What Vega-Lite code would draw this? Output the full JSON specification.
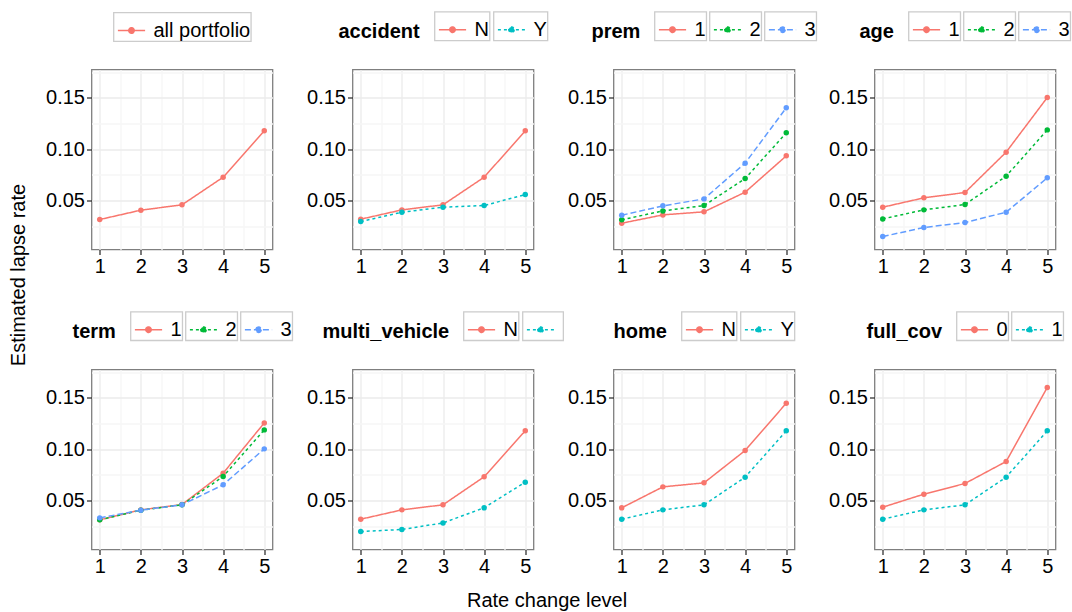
{
  "$schema": "https://vega.github.io/schema/vega-lite/v6.json",
  "padding": {"left": 8.5, "top": 10.5, "right": 5, "bottom": 5},
  "background": "#FFFFFF",
  "title": {"text": "Estimated lapse rate", "orient": "left", "anchor": "middle", "offset": 16, "dx": 36},
  "data": {
    "values": [
      {"panel": "all", "level": "all portfolio", "rate_level": 1, "lapse_rate": 0.0315},
      {"panel": "all", "level": "all portfolio", "rate_level": 2, "lapse_rate": 0.0406},
      {"panel": "all", "level": "all portfolio", "rate_level": 3, "lapse_rate": 0.0458},
      {"panel": "all", "level": "all portfolio", "rate_level": 4, "lapse_rate": 0.0727},
      {"panel": "all", "level": "all portfolio", "rate_level": 5, "lapse_rate": 0.1179},

      {"panel": "accident", "level": "N", "rate_level": 1, "lapse_rate": 0.0318},
      {"panel": "accident", "level": "N", "rate_level": 2, "lapse_rate": 0.0409},
      {"panel": "accident", "level": "N", "rate_level": 3, "lapse_rate": 0.0458},
      {"panel": "accident", "level": "N", "rate_level": 4, "lapse_rate": 0.0727},
      {"panel": "accident", "level": "N", "rate_level": 5, "lapse_rate": 0.1179},
      {"panel": "accident", "level": "Y", "rate_level": 1, "lapse_rate": 0.0295},
      {"panel": "accident", "level": "Y", "rate_level": 2, "lapse_rate": 0.0386},
      {"panel": "accident", "level": "Y", "rate_level": 3, "lapse_rate": 0.0435},
      {"panel": "accident", "level": "Y", "rate_level": 4, "lapse_rate": 0.0451},
      {"panel": "accident", "level": "Y", "rate_level": 5, "lapse_rate": 0.0558},

      {"panel": "prem", "level": "1", "rate_level": 1, "lapse_rate": 0.0279},
      {"panel": "prem", "level": "1", "rate_level": 2, "lapse_rate": 0.0360},
      {"panel": "prem", "level": "1", "rate_level": 3, "lapse_rate": 0.0390},
      {"panel": "prem", "level": "1", "rate_level": 4, "lapse_rate": 0.0581},
      {"panel": "prem", "level": "1", "rate_level": 5, "lapse_rate": 0.0935},
      {"panel": "prem", "level": "2", "rate_level": 1, "lapse_rate": 0.0312},
      {"panel": "prem", "level": "2", "rate_level": 2, "lapse_rate": 0.0399},
      {"panel": "prem", "level": "2", "rate_level": 3, "lapse_rate": 0.0451},
      {"panel": "prem", "level": "2", "rate_level": 4, "lapse_rate": 0.0714},
      {"panel": "prem", "level": "2", "rate_level": 5, "lapse_rate": 0.1159},
      {"panel": "prem", "level": "3", "rate_level": 1, "lapse_rate": 0.0357},
      {"panel": "prem", "level": "3", "rate_level": 2, "lapse_rate": 0.0448},
      {"panel": "prem", "level": "3", "rate_level": 3, "lapse_rate": 0.0516},
      {"panel": "prem", "level": "3", "rate_level": 4, "lapse_rate": 0.0864},
      {"panel": "prem", "level": "3", "rate_level": 5, "lapse_rate": 0.1403},

      {"panel": "age", "level": "1", "rate_level": 1, "lapse_rate": 0.0435},
      {"panel": "age", "level": "1", "rate_level": 2, "lapse_rate": 0.0526},
      {"panel": "age", "level": "1", "rate_level": 3, "lapse_rate": 0.0578},
      {"panel": "age", "level": "1", "rate_level": 4, "lapse_rate": 0.0971},
      {"panel": "age", "level": "1", "rate_level": 5, "lapse_rate": 0.1503},
      {"panel": "age", "level": "2", "rate_level": 1, "lapse_rate": 0.0321},
      {"panel": "age", "level": "2", "rate_level": 2, "lapse_rate": 0.0409},
      {"panel": "age", "level": "2", "rate_level": 3, "lapse_rate": 0.0461},
      {"panel": "age", "level": "2", "rate_level": 4, "lapse_rate": 0.0737},
      {"panel": "age", "level": "2", "rate_level": 5, "lapse_rate": 0.1188},
      {"panel": "age", "level": "3", "rate_level": 1, "lapse_rate": 0.0149},
      {"panel": "age", "level": "3", "rate_level": 2, "lapse_rate": 0.0237},
      {"panel": "age", "level": "3", "rate_level": 3, "lapse_rate": 0.0286},
      {"panel": "age", "level": "3", "rate_level": 4, "lapse_rate": 0.0386},
      {"panel": "age", "level": "3", "rate_level": 5, "lapse_rate": 0.0721},

      {"panel": "term", "level": "1", "rate_level": 1, "lapse_rate": 0.0312},
      {"panel": "term", "level": "1", "rate_level": 2, "lapse_rate": 0.0409},
      {"panel": "term", "level": "1", "rate_level": 3, "lapse_rate": 0.0461},
      {"panel": "term", "level": "1", "rate_level": 4, "lapse_rate": 0.0766},
      {"panel": "term", "level": "1", "rate_level": 5, "lapse_rate": 0.1256},
      {"panel": "term", "level": "2", "rate_level": 1, "lapse_rate": 0.0312},
      {"panel": "term", "level": "2", "rate_level": 2, "lapse_rate": 0.0406},
      {"panel": "term", "level": "2", "rate_level": 3, "lapse_rate": 0.0458},
      {"panel": "term", "level": "2", "rate_level": 4, "lapse_rate": 0.0734},
      {"panel": "term", "level": "2", "rate_level": 5, "lapse_rate": 0.1188},
      {"panel": "term", "level": "3", "rate_level": 1, "lapse_rate": 0.0331},
      {"panel": "term", "level": "3", "rate_level": 2, "lapse_rate": 0.0406},
      {"panel": "term", "level": "3", "rate_level": 3, "lapse_rate": 0.0458},
      {"panel": "term", "level": "3", "rate_level": 4, "lapse_rate": 0.0653},
      {"panel": "term", "level": "3", "rate_level": 5, "lapse_rate": 0.1003},

      {"panel": "multi_vehicle", "level": "N", "rate_level": 1, "lapse_rate": 0.0318},
      {"panel": "multi_vehicle", "level": "N", "rate_level": 2, "lapse_rate": 0.0409},
      {"panel": "multi_vehicle", "level": "N", "rate_level": 3, "lapse_rate": 0.0458},
      {"panel": "multi_vehicle", "level": "N", "rate_level": 4, "lapse_rate": 0.0731},
      {"panel": "multi_vehicle", "level": "N", "rate_level": 5, "lapse_rate": 0.1179},
      {"panel": "multi_vehicle", "level": "Y", "rate_level": 1, "lapse_rate": 0.0198},
      {"panel": "multi_vehicle", "level": "Y", "rate_level": 2, "lapse_rate": 0.0218},
      {"panel": "multi_vehicle", "level": "Y", "rate_level": 3, "lapse_rate": 0.0282},
      {"panel": "multi_vehicle", "level": "Y", "rate_level": 4, "lapse_rate": 0.0429},
      {"panel": "multi_vehicle", "level": "Y", "rate_level": 5, "lapse_rate": 0.0679},

      {"panel": "home", "level": "N", "rate_level": 1, "lapse_rate": 0.0429},
      {"panel": "home", "level": "N", "rate_level": 2, "lapse_rate": 0.0633},
      {"panel": "home", "level": "N", "rate_level": 3, "lapse_rate": 0.0672},
      {"panel": "home", "level": "N", "rate_level": 4, "lapse_rate": 0.0987},
      {"panel": "home", "level": "N", "rate_level": 5, "lapse_rate": 0.1448},
      {"panel": "home", "level": "Y", "rate_level": 1, "lapse_rate": 0.0318},
      {"panel": "home", "level": "Y", "rate_level": 2, "lapse_rate": 0.0409},
      {"panel": "home", "level": "Y", "rate_level": 3, "lapse_rate": 0.0458},
      {"panel": "home", "level": "Y", "rate_level": 4, "lapse_rate": 0.0727},
      {"panel": "home", "level": "Y", "rate_level": 5, "lapse_rate": 0.1179},

      {"panel": "full_cov", "level": "0", "rate_level": 1, "lapse_rate": 0.0435},
      {"panel": "full_cov", "level": "0", "rate_level": 2, "lapse_rate": 0.0562},
      {"panel": "full_cov", "level": "0", "rate_level": 3, "lapse_rate": 0.0666},
      {"panel": "full_cov", "level": "0", "rate_level": 4, "lapse_rate": 0.0880},
      {"panel": "full_cov", "level": "0", "rate_level": 5, "lapse_rate": 0.1601},
      {"panel": "full_cov", "level": "1", "rate_level": 1, "lapse_rate": 0.0318},
      {"panel": "full_cov", "level": "1", "rate_level": 2, "lapse_rate": 0.0409},
      {"panel": "full_cov", "level": "1", "rate_level": 3, "lapse_rate": 0.0458},
      {"panel": "full_cov", "level": "1", "rate_level": 4, "lapse_rate": 0.0727},
      {"panel": "full_cov", "level": "1", "rate_level": 5, "lapse_rate": 0.1179}
    ]
  },
  "hconcat": [
    {
      "title": {"text": "Rate change level", "orient": "bottom", "anchor": "middle", "offset": 14, "dx": -11},
      "columns": 4,
      "spacing": {"row": 120, "column": 80},
      "bounds": "flush",
      "resolve": {"scale": {"color": "independent", "strokeDash": "independent"}, "legend": {"color": "independent", "strokeDash": "independent"}},
      "concat": [
        {
          "transform": [{"filter": "datum.panel == 'all'"}],
          "encoding": {
            "x": {"field": "rate_level", "type": "quantitative", "title": null, "scale": {"domain": [0.8, 5.2], "nice": false, "zero": false},
                  "axis": {"values": [1, 1.5, 2, 2.5, 3, 3.5, 4, 4.5, 5], "labelExpr": "datum.value % 1 == 0 ? format(datum.value, 'd') : ''",
                           "tickOpacity": {"condition": {"test": "datum.value % 1 != 0", "value": 0}, "value": 1},
                           "gridColor": {"condition": {"test": "datum.value % 1 != 0", "value": "#F6F6F6"}, "value": "#EBEBEB"}}},
            "y": {"field": "lapse_rate", "type": "quantitative", "title": null, "scale": {"domain": [0.0023, 0.1776], "nice": false, "zero": false},
                  "axis": {"values": [0.025, 0.05, 0.075, 0.1, 0.125, 0.15, 0.175], "labelExpr": "round(datum.value * 1000) % 50 == 0 ? format(datum.value, '.2f') : ''",
                           "tickOpacity": {"condition": {"test": "round(datum.value * 1000) % 50 != 0", "value": 0}, "value": 1},
                           "gridColor": {"condition": {"test": "round(datum.value * 1000) % 50 != 0", "value": "#F6F6F6"}, "value": "#EBEBEB"}}},
            "color": {"field": "level", "type": "nominal", "scale": {"domain": ["all portfolio"], "range": ["#F8766D"]},
                      "legend": {"title": null, "encode": {"entries": {"update": {"width": {"value": 34}, "height": {"value": 34}, "stroke": {"value": "#CCCCCC"}, "strokeWidth": {"value": 1.3}, "fill": {"value": "#FFFFFF"}}}}}},
            "strokeDash": {"field": "level", "type": "nominal", "scale": {"domain": ["all portfolio"], "range": [[1, 0]]},
                      "legend": {"title": null, "encode": {"entries": {"update": {"width": {"value": 34}, "height": {"value": 34}, "stroke": {"value": "#CCCCCC"}, "strokeWidth": {"value": 1.3}, "fill": {"value": "#FFFFFF"}}}}}}
          },
          "layer": [
            {"mark": {"type": "line", "strokeWidth": 1.5}},
            {"mark": {"type": "point", "filled": true, "size": 30, "opacity": 1}}
          ]
        },
        {
          "transform": [{"filter": "datum.panel == 'accident'"}],
          "encoding": {
            "x": {"field": "rate_level", "type": "quantitative", "title": null, "scale": {"domain": [0.8, 5.2], "nice": false, "zero": false},
                  "axis": {"values": [1, 1.5, 2, 2.5, 3, 3.5, 4, 4.5, 5], "labelExpr": "datum.value % 1 == 0 ? format(datum.value, 'd') : ''",
                           "tickOpacity": {"condition": {"test": "datum.value % 1 != 0", "value": 0}, "value": 1},
                           "gridColor": {"condition": {"test": "datum.value % 1 != 0", "value": "#F6F6F6"}, "value": "#EBEBEB"}}},
            "y": {"field": "lapse_rate", "type": "quantitative", "title": null, "scale": {"domain": [0.0023, 0.1776], "nice": false, "zero": false},
                  "axis": {"values": [0.025, 0.05, 0.075, 0.1, 0.125, 0.15, 0.175], "labelExpr": "round(datum.value * 1000) % 50 == 0 ? format(datum.value, '.2f') : ''",
                           "tickOpacity": {"condition": {"test": "round(datum.value * 1000) % 50 != 0", "value": 0}, "value": 1},
                           "gridColor": {"condition": {"test": "round(datum.value * 1000) % 50 != 0", "value": "#F6F6F6"}, "value": "#EBEBEB"}}},
            "color": {"field": "level", "type": "nominal", "scale": {"domain": ["N", "Y"], "range": ["#F8766D", "#00BFC4"]},
                      "legend": {"title": "accident", "encode": {"title": {"update": {"dy": {"value": 6}}}, "entries": {"update": {"width": {"value": 34}, "height": {"value": 34}, "stroke": {"value": "#CCCCCC"}, "strokeWidth": {"value": 1.3}, "fill": {"value": "#FFFFFF"}}}}}},
            "strokeDash": {"field": "level", "type": "nominal", "scale": {"domain": ["N", "Y"], "range": [[1, 0], [3, 3]]},
                      "legend": {"title": "accident", "encode": {"title": {"update": {"dy": {"value": 6}}}, "entries": {"update": {"width": {"value": 34}, "height": {"value": 34}, "stroke": {"value": "#CCCCCC"}, "strokeWidth": {"value": 1.3}, "fill": {"value": "#FFFFFF"}}}}}}
          },
          "layer": [
            {"mark": {"type": "line", "strokeWidth": 1.5}},
            {"mark": {"type": "point", "filled": true, "size": 30, "opacity": 1}}
          ]
        },
        {
          "transform": [{"filter": "datum.panel == 'prem'"}],
          "encoding": {
            "x": {"field": "rate_level", "type": "quantitative", "title": null, "scale": {"domain": [0.8, 5.2], "nice": false, "zero": false},
                  "axis": {"values": [1, 1.5, 2, 2.5, 3, 3.5, 4, 4.5, 5], "labelExpr": "datum.value % 1 == 0 ? format(datum.value, 'd') : ''",
                           "tickOpacity": {"condition": {"test": "datum.value % 1 != 0", "value": 0}, "value": 1},
                           "gridColor": {"condition": {"test": "datum.value % 1 != 0", "value": "#F6F6F6"}, "value": "#EBEBEB"}}},
            "y": {"field": "lapse_rate", "type": "quantitative", "title": null, "scale": {"domain": [0.0023, 0.1776], "nice": false, "zero": false},
                  "axis": {"values": [0.025, 0.05, 0.075, 0.1, 0.125, 0.15, 0.175], "labelExpr": "round(datum.value * 1000) % 50 == 0 ? format(datum.value, '.2f') : ''",
                           "tickOpacity": {"condition": {"test": "round(datum.value * 1000) % 50 != 0", "value": 0}, "value": 1},
                           "gridColor": {"condition": {"test": "round(datum.value * 1000) % 50 != 0", "value": "#F6F6F6"}, "value": "#EBEBEB"}}},
            "color": {"field": "level", "type": "nominal", "scale": {"domain": ["1", "2", "3"], "range": ["#F8766D", "#00BA38", "#619CFF"]},
                      "legend": {"title": "prem", "encode": {"title": {"update": {"dy": {"value": 6}}}, "entries": {"update": {"width": {"value": 34}, "height": {"value": 34}, "stroke": {"value": "#CCCCCC"}, "strokeWidth": {"value": 1.3}, "fill": {"value": "#FFFFFF"}}}}}},
            "strokeDash": {"field": "level", "type": "nominal", "scale": {"domain": ["1", "2", "3"], "range": [[1, 0], [3, 3], [6, 3]]},
                      "legend": {"title": "prem", "encode": {"title": {"update": {"dy": {"value": 6}}}, "entries": {"update": {"width": {"value": 34}, "height": {"value": 34}, "stroke": {"value": "#CCCCCC"}, "strokeWidth": {"value": 1.3}, "fill": {"value": "#FFFFFF"}}}}}}
          },
          "layer": [
            {"mark": {"type": "line", "strokeWidth": 1.5}},
            {"mark": {"type": "point", "filled": true, "size": 30, "opacity": 1}}
          ]
        },
        {
          "transform": [{"filter": "datum.panel == 'age'"}],
          "encoding": {
            "x": {"field": "rate_level", "type": "quantitative", "title": null, "scale": {"domain": [0.8, 5.2], "nice": false, "zero": false},
                  "axis": {"values": [1, 1.5, 2, 2.5, 3, 3.5, 4, 4.5, 5], "labelExpr": "datum.value % 1 == 0 ? format(datum.value, 'd') : ''",
                           "tickOpacity": {"condition": {"test": "datum.value % 1 != 0", "value": 0}, "value": 1},
                           "gridColor": {"condition": {"test": "datum.value % 1 != 0", "value": "#F6F6F6"}, "value": "#EBEBEB"}}},
            "y": {"field": "lapse_rate", "type": "quantitative", "title": null, "scale": {"domain": [0.0023, 0.1776], "nice": false, "zero": false},
                  "axis": {"values": [0.025, 0.05, 0.075, 0.1, 0.125, 0.15, 0.175], "labelExpr": "round(datum.value * 1000) % 50 == 0 ? format(datum.value, '.2f') : ''",
                           "tickOpacity": {"condition": {"test": "round(datum.value * 1000) % 50 != 0", "value": 0}, "value": 1},
                           "gridColor": {"condition": {"test": "round(datum.value * 1000) % 50 != 0", "value": "#F6F6F6"}, "value": "#EBEBEB"}}},
            "color": {"field": "level", "type": "nominal", "scale": {"domain": ["1", "2", "3"], "range": ["#F8766D", "#00BA38", "#619CFF"]},
                      "legend": {"title": "age", "encode": {"title": {"update": {"dy": {"value": 6}}}, "entries": {"update": {"width": {"value": 34}, "height": {"value": 34}, "stroke": {"value": "#CCCCCC"}, "strokeWidth": {"value": 1.3}, "fill": {"value": "#FFFFFF"}}}}}},
            "strokeDash": {"field": "level", "type": "nominal", "scale": {"domain": ["1", "2", "3"], "range": [[1, 0], [3, 3], [6, 3]]},
                      "legend": {"title": "age", "encode": {"title": {"update": {"dy": {"value": 6}}}, "entries": {"update": {"width": {"value": 34}, "height": {"value": 34}, "stroke": {"value": "#CCCCCC"}, "strokeWidth": {"value": 1.3}, "fill": {"value": "#FFFFFF"}}}}}}
          },
          "layer": [
            {"mark": {"type": "line", "strokeWidth": 1.5}},
            {"mark": {"type": "point", "filled": true, "size": 30, "opacity": 1}}
          ]
        },
        {
          "transform": [{"filter": "datum.panel == 'term'"}],
          "encoding": {
            "x": {"field": "rate_level", "type": "quantitative", "title": null, "scale": {"domain": [0.8, 5.2], "nice": false, "zero": false},
                  "axis": {"values": [1, 1.5, 2, 2.5, 3, 3.5, 4, 4.5, 5], "labelExpr": "datum.value % 1 == 0 ? format(datum.value, 'd') : ''",
                           "tickOpacity": {"condition": {"test": "datum.value % 1 != 0", "value": 0}, "value": 1},
                           "gridColor": {"condition": {"test": "datum.value % 1 != 0", "value": "#F6F6F6"}, "value": "#EBEBEB"}}},
            "y": {"field": "lapse_rate", "type": "quantitative", "title": null, "scale": {"domain": [0.0023, 0.1776], "nice": false, "zero": false},
                  "axis": {"values": [0.025, 0.05, 0.075, 0.1, 0.125, 0.15, 0.175], "labelExpr": "round(datum.value * 1000) % 50 == 0 ? format(datum.value, '.2f') : ''",
                           "tickOpacity": {"condition": {"test": "round(datum.value * 1000) % 50 != 0", "value": 0}, "value": 1},
                           "gridColor": {"condition": {"test": "round(datum.value * 1000) % 50 != 0", "value": "#F6F6F6"}, "value": "#EBEBEB"}}},
            "color": {"field": "level", "type": "nominal", "scale": {"domain": ["1", "2", "3"], "range": ["#F8766D", "#00BA38", "#619CFF"]},
                      "legend": {"title": "term", "encode": {"title": {"update": {"dy": {"value": 6}}}, "entries": {"update": {"width": {"value": 34}, "height": {"value": 34}, "stroke": {"value": "#CCCCCC"}, "strokeWidth": {"value": 1.3}, "fill": {"value": "#FFFFFF"}}}}}},
            "strokeDash": {"field": "level", "type": "nominal", "scale": {"domain": ["1", "2", "3"], "range": [[1, 0], [3, 3], [6, 3]]},
                      "legend": {"title": "term", "encode": {"title": {"update": {"dy": {"value": 6}}}, "entries": {"update": {"width": {"value": 34}, "height": {"value": 34}, "stroke": {"value": "#CCCCCC"}, "strokeWidth": {"value": 1.3}, "fill": {"value": "#FFFFFF"}}}}}}
          },
          "layer": [
            {"mark": {"type": "line", "strokeWidth": 1.5}},
            {"mark": {"type": "point", "filled": true, "size": 30, "opacity": 1}}
          ]
        },
        {
          "transform": [{"filter": "datum.panel == 'multi_vehicle'"}],
          "encoding": {
            "x": {"field": "rate_level", "type": "quantitative", "title": null, "scale": {"domain": [0.8, 5.2], "nice": false, "zero": false},
                  "axis": {"values": [1, 1.5, 2, 2.5, 3, 3.5, 4, 4.5, 5], "labelExpr": "datum.value % 1 == 0 ? format(datum.value, 'd') : ''",
                           "tickOpacity": {"condition": {"test": "datum.value % 1 != 0", "value": 0}, "value": 1},
                           "gridColor": {"condition": {"test": "datum.value % 1 != 0", "value": "#F6F6F6"}, "value": "#EBEBEB"}}},
            "y": {"field": "lapse_rate", "type": "quantitative", "title": null, "scale": {"domain": [0.0023, 0.1776], "nice": false, "zero": false},
                  "axis": {"values": [0.025, 0.05, 0.075, 0.1, 0.125, 0.15, 0.175], "labelExpr": "round(datum.value * 1000) % 50 == 0 ? format(datum.value, '.2f') : ''",
                           "tickOpacity": {"condition": {"test": "round(datum.value * 1000) % 50 != 0", "value": 0}, "value": 1},
                           "gridColor": {"condition": {"test": "round(datum.value * 1000) % 50 != 0", "value": "#F6F6F6"}, "value": "#EBEBEB"}}},
            "color": {"field": "level", "type": "nominal", "scale": {"domain": ["N", "Y"], "range": ["#F8766D", "#00BFC4"]},
                      "legend": {"title": "multi_vehicle", "labelExpr": "datum.label == 'Y' ? '' : datum.label", "encode": {"title": {"update": {"dy": {"value": 6}}}, "entries": {"update": {"width": {"value": 34}, "height": {"value": 34}, "stroke": {"value": "#CCCCCC"}, "strokeWidth": {"value": 1.3}, "fill": {"value": "#FFFFFF"}}}}}},
            "strokeDash": {"field": "level", "type": "nominal", "scale": {"domain": ["N", "Y"], "range": [[1, 0], [3, 3]]},
                      "legend": {"title": "multi_vehicle", "labelExpr": "datum.label == 'Y' ? '' : datum.label", "encode": {"title": {"update": {"dy": {"value": 6}}}, "entries": {"update": {"width": {"value": 34}, "height": {"value": 34}, "stroke": {"value": "#CCCCCC"}, "strokeWidth": {"value": 1.3}, "fill": {"value": "#FFFFFF"}}}}}}
          },
          "layer": [
            {"mark": {"type": "line", "strokeWidth": 1.5}},
            {"mark": {"type": "point", "filled": true, "size": 30, "opacity": 1}}
          ]
        },
        {
          "transform": [{"filter": "datum.panel == 'home'"}],
          "encoding": {
            "x": {"field": "rate_level", "type": "quantitative", "title": null, "scale": {"domain": [0.8, 5.2], "nice": false, "zero": false},
                  "axis": {"values": [1, 1.5, 2, 2.5, 3, 3.5, 4, 4.5, 5], "labelExpr": "datum.value % 1 == 0 ? format(datum.value, 'd') : ''",
                           "tickOpacity": {"condition": {"test": "datum.value % 1 != 0", "value": 0}, "value": 1},
                           "gridColor": {"condition": {"test": "datum.value % 1 != 0", "value": "#F6F6F6"}, "value": "#EBEBEB"}}},
            "y": {"field": "lapse_rate", "type": "quantitative", "title": null, "scale": {"domain": [0.0023, 0.1776], "nice": false, "zero": false},
                  "axis": {"values": [0.025, 0.05, 0.075, 0.1, 0.125, 0.15, 0.175], "labelExpr": "round(datum.value * 1000) % 50 == 0 ? format(datum.value, '.2f') : ''",
                           "tickOpacity": {"condition": {"test": "round(datum.value * 1000) % 50 != 0", "value": 0}, "value": 1},
                           "gridColor": {"condition": {"test": "round(datum.value * 1000) % 50 != 0", "value": "#F6F6F6"}, "value": "#EBEBEB"}}},
            "color": {"field": "level", "type": "nominal", "scale": {"domain": ["N", "Y"], "range": ["#F8766D", "#00BFC4"]},
                      "legend": {"title": "home", "encode": {"title": {"update": {"dy": {"value": 6}}}, "entries": {"update": {"width": {"value": 34}, "height": {"value": 34}, "stroke": {"value": "#CCCCCC"}, "strokeWidth": {"value": 1.3}, "fill": {"value": "#FFFFFF"}}}}}},
            "strokeDash": {"field": "level", "type": "nominal", "scale": {"domain": ["N", "Y"], "range": [[1, 0], [3, 3]]},
                      "legend": {"title": "home", "encode": {"title": {"update": {"dy": {"value": 6}}}, "entries": {"update": {"width": {"value": 34}, "height": {"value": 34}, "stroke": {"value": "#CCCCCC"}, "strokeWidth": {"value": 1.3}, "fill": {"value": "#FFFFFF"}}}}}}
          },
          "layer": [
            {"mark": {"type": "line", "strokeWidth": 1.5}},
            {"mark": {"type": "point", "filled": true, "size": 30, "opacity": 1}}
          ]
        },
        {
          "transform": [{"filter": "datum.panel == 'full_cov'"}],
          "encoding": {
            "x": {"field": "rate_level", "type": "quantitative", "title": null, "scale": {"domain": [0.8, 5.2], "nice": false, "zero": false},
                  "axis": {"values": [1, 1.5, 2, 2.5, 3, 3.5, 4, 4.5, 5], "labelExpr": "datum.value % 1 == 0 ? format(datum.value, 'd') : ''",
                           "tickOpacity": {"condition": {"test": "datum.value % 1 != 0", "value": 0}, "value": 1},
                           "gridColor": {"condition": {"test": "datum.value % 1 != 0", "value": "#F6F6F6"}, "value": "#EBEBEB"}}},
            "y": {"field": "lapse_rate", "type": "quantitative", "title": null, "scale": {"domain": [0.0023, 0.1776], "nice": false, "zero": false},
                  "axis": {"values": [0.025, 0.05, 0.075, 0.1, 0.125, 0.15, 0.175], "labelExpr": "round(datum.value * 1000) % 50 == 0 ? format(datum.value, '.2f') : ''",
                           "tickOpacity": {"condition": {"test": "round(datum.value * 1000) % 50 != 0", "value": 0}, "value": 1},
                           "gridColor": {"condition": {"test": "round(datum.value * 1000) % 50 != 0", "value": "#F6F6F6"}, "value": "#EBEBEB"}}},
            "color": {"field": "level", "type": "nominal", "scale": {"domain": ["0", "1"], "range": ["#F8766D", "#00BFC4"]},
                      "legend": {"title": "full_cov", "encode": {"title": {"update": {"dy": {"value": 6}}}, "entries": {"update": {"width": {"value": 34}, "height": {"value": 34}, "stroke": {"value": "#CCCCCC"}, "strokeWidth": {"value": 1.3}, "fill": {"value": "#FFFFFF"}}}}}},
            "strokeDash": {"field": "level", "type": "nominal", "scale": {"domain": ["0", "1"], "range": [[1, 0], [3, 3]]},
                      "legend": {"title": "full_cov", "encode": {"title": {"update": {"dy": {"value": 6}}}, "entries": {"update": {"width": {"value": 34}, "height": {"value": 34}, "stroke": {"value": "#CCCCCC"}, "strokeWidth": {"value": 1.3}, "fill": {"value": "#FFFFFF"}}}}}}
          },
          "layer": [
            {"mark": {"type": "line", "strokeWidth": 1.5}},
            {"mark": {"type": "point", "filled": true, "size": 30, "opacity": 1}}
          ]
        }
      ]
    }
  ],
  "resolve": {"scale": {"color": "independent", "strokeDash": "independent"}, "legend": {"color": "independent", "strokeDash": "independent"}},
  "config": {
    "font": "Liberation Sans",
    "view": {"continuousWidth": 181, "continuousHeight": 180, "stroke": "#7F7F7F", "strokeWidth": 1.3},
    "title": {"font": "Liberation Sans", "fontSize": 20, "fontWeight": "normal", "color": "#000000"},
    "axis": {"domain": false, "grid": true, "gridWidth": 1.3, "labelFont": "Liberation Sans", "labelFontSize": 20, "labelColor": "#000000",
             "tickColor": "#333333", "tickSize": 5, "tickWidth": 1.3, "labelPadding": 2, "labelFlush": false, "labelOverlap": false},
    "legend": {
      "orient": "top", "direction": "horizontal", "titleOrient": "left", "titleAnchor": "middle", "titleBaseline": "middle",
      "titleFont": "Liberation Sans", "titleFontSize": 20, "titleFontWeight": "bold", "titleColor": "#000000",
      "labelFont": "Liberation Sans", "labelFontSize": 20, "labelColor": "#000000",
      "symbolType": "M-0.8,0L0.8,0M0.16,0A0.16,0.16,0,1,1,-0.16,0A0.16,0.16,0,1,1,0.16,0",
      "symbolSize": 1156, "symbolStrokeWidth": 1.5,
      "labelOffset": 4, "columnPadding": 3, "titlePadding": 14, "offset": 28,
      "layout": {"top": {"anchor": "middle"}}
    }
  }
}
